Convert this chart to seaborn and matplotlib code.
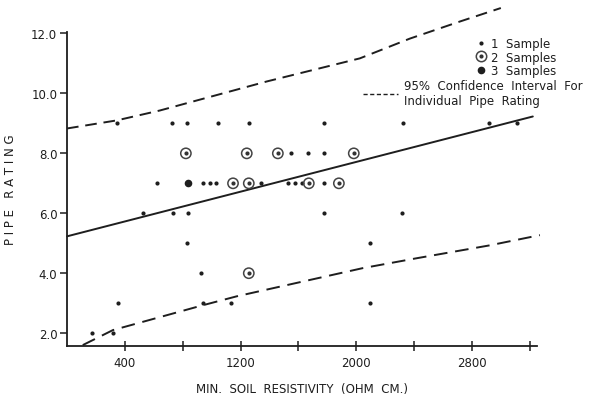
import numpy as np
import pandas as pd
import matplotlib
matplotlib.use("Agg")
import matplotlib.pyplot as plt
from matplotlib.lines import Line2D
import seaborn as sns

# ---- data ----
# single-sample points
x1 = [345, 726, 830, 1043, 1257, 1776, 2322, 2917, 3110,
      1548, 1665, 1776,
      621, 939, 987, 1030, 1340, 1527, 1575, 1624, 1776,
      524, 731, 835, 1776, 2315,
      828, 2095,
      927,
      352, 939, 1133, 2095,
      172, 317]
y1 = [9, 9, 9, 9, 9, 9, 9, 9, 9,
      8, 8, 8,
      7, 7, 7, 7, 7, 7, 7, 7, 7,
      6, 6, 6, 6, 6,
      5, 5,
      4,
      3, 3, 3, 3,
      2, 2]
# two-sample points
x2 = [822, 1243, 1458, 1983, 1148, 1257, 1672, 1880, 1257]
y2 = [8, 8, 8, 8, 7, 7, 7, 7, 4]
# three-sample points
x3 = [835]
y3 = [7]

# regression line end points
reg_x = [0, 3221]
reg_y = [5.23, 9.23]
# 95% prediction interval curves (read points)
up_x = [0, 344, 642, 1382, 2025, 2371, 2717, 3000]
up_y = [8.83, 9.10, 9.43, 10.40, 11.17, 11.83, 12.40, 12.85]
lo_x = [109, 317, 939, 1175, 2046, 2419, 2924, 3270]
lo_y = [1.60, 2.10, 2.93, 3.23, 4.17, 4.50, 4.93, 5.27]

xticks_major = [400, 1200, 2000, 2800]
xticks_minor = [800, 1600, 2400, 3200]
yticks = [2, 4, 6, 8, 10, 12]

sns.set_style("white")
plt.rcParams['font.family'] = ['DejaVu Sans']
ink = "#1e1e1e"

fig = plt.figure(figsize=(6.06, 4.02), dpi=100)
ax = fig.add_axes([67 / 606, 55 / 402, 470 / 606, 314 / 402])

d1 = pd.DataFrame({"x": x1, "y": y1})
d2 = pd.DataFrame({"x": x2, "y": y2})
d3 = pd.DataFrame({"x": x3, "y": y3})

sns.lineplot(x=reg_x, y=reg_y, ax=ax, color=ink, lw=1.4)
sns.lineplot(x=up_x, y=up_y, ax=ax, color=ink, lw=1.4, sort=True)
sns.lineplot(x=lo_x, y=lo_y, ax=ax, color=ink, lw=1.4, sort=True)
ax.lines[1].set_linestyle((0, (6, 3.5)))
ax.lines[2].set_linestyle((0, (7, 4)))
for ln in ax.lines:
    ln.set_clip_on(False)

sns.scatterplot(data=d1, x="x", y="y", ax=ax, color=ink, s=9, marker="o",
                linewidth=0, zorder=5)
sns.scatterplot(data=d2, x="x", y="y", ax=ax, facecolor="none", edgecolor="#444444",
                s=55, marker="o", linewidth=1.1, zorder=5)
sns.scatterplot(data=d2, x="x", y="y", ax=ax, color="#333333", s=9, marker="o",
                linewidth=0, zorder=6)
sns.scatterplot(data=d3, x="x", y="y", ax=ax, color=ink, s=30, marker="o",
                linewidth=0, zorder=6)

ax.set_xlim(0, 3250)
ax.set_ylim(1.57, 12.05)
ax.set_xticks(xticks_major)
ax.set_xticks(xticks_minor, minor=True)
ax.set_xticklabels([str(v) for v in xticks_major])
ax.set_yticks(yticks)
ax.set_yticklabels([f"{v:.1f}" for v in yticks])
for s in ["top", "right"]:
    ax.spines[s].set_visible(False)
for s in ["left", "bottom"]:
    ax.spines[s].set_color(ink)
    ax.spines[s].set_linewidth(1.3)
ax.tick_params(axis="x", which="both", direction="inout", length=7, width=1.1,
               color=ink, labelsize=8.5, labelcolor=ink, pad=4, bottom=True)
ax.tick_params(axis="y", which="both", direction="out", length=5, width=1.1,
               color=ink, labelsize=8.5, labelcolor=ink, pad=2, left=True)
ax.set_xlabel("MIN.  SOIL  RESISTIVITY  (OHM  CM.)", fontsize=8.5, color=ink,
              labelpad=9)
ax.set_ylabel("P I P E   R A T I N G", fontsize=8.5, color=ink, labelpad=10)

# legends
h1 = Line2D([], [], ls="none", marker="o", ms=3, color=ink, mew=0)
h2o = Line2D([], [], ls="none", marker="o", ms=7.5, mfc="none", mec="#444444", mew=1.1)
h2i = Line2D([], [], ls="none", marker="o", ms=3, color="#333333", mew=0)
h3 = Line2D([], [], ls="none", marker="o", ms=5.5, color=ink, mew=0)
leg1 = ax.legend([h1, (h2o, h2i), h3], ["1  Sample", "2  Samples", "3  Samples"],
                 loc="upper left", bbox_to_anchor=(476 / 606, 1 - 38 / 402),
                 bbox_transform=fig.transFigure, frameon=False, fontsize=8.5,
                 handlelength=0.8, handletextpad=0.5, labelspacing=0.05,
                 borderpad=0, borderaxespad=0, labelcolor=ink)
ax.add_artist(leg1)
hd = Line2D([], [], color=ink, lw=1.0, ls=(0, (3, 1.8)))
ax.legend([hd], ["95%  Confidence  Interval  For\nIndividual  Pipe  Rating"],
          loc="upper left", bbox_to_anchor=(363 / 606, 1 - 80 / 402),
          bbox_transform=fig.transFigure, frameon=False, fontsize=8.5,
          handlelength=3.0, handletextpad=0.5, borderpad=0, borderaxespad=0,
          labelcolor=ink, labelspacing=0.1)

fig.savefig("out.png", dpi=100)
